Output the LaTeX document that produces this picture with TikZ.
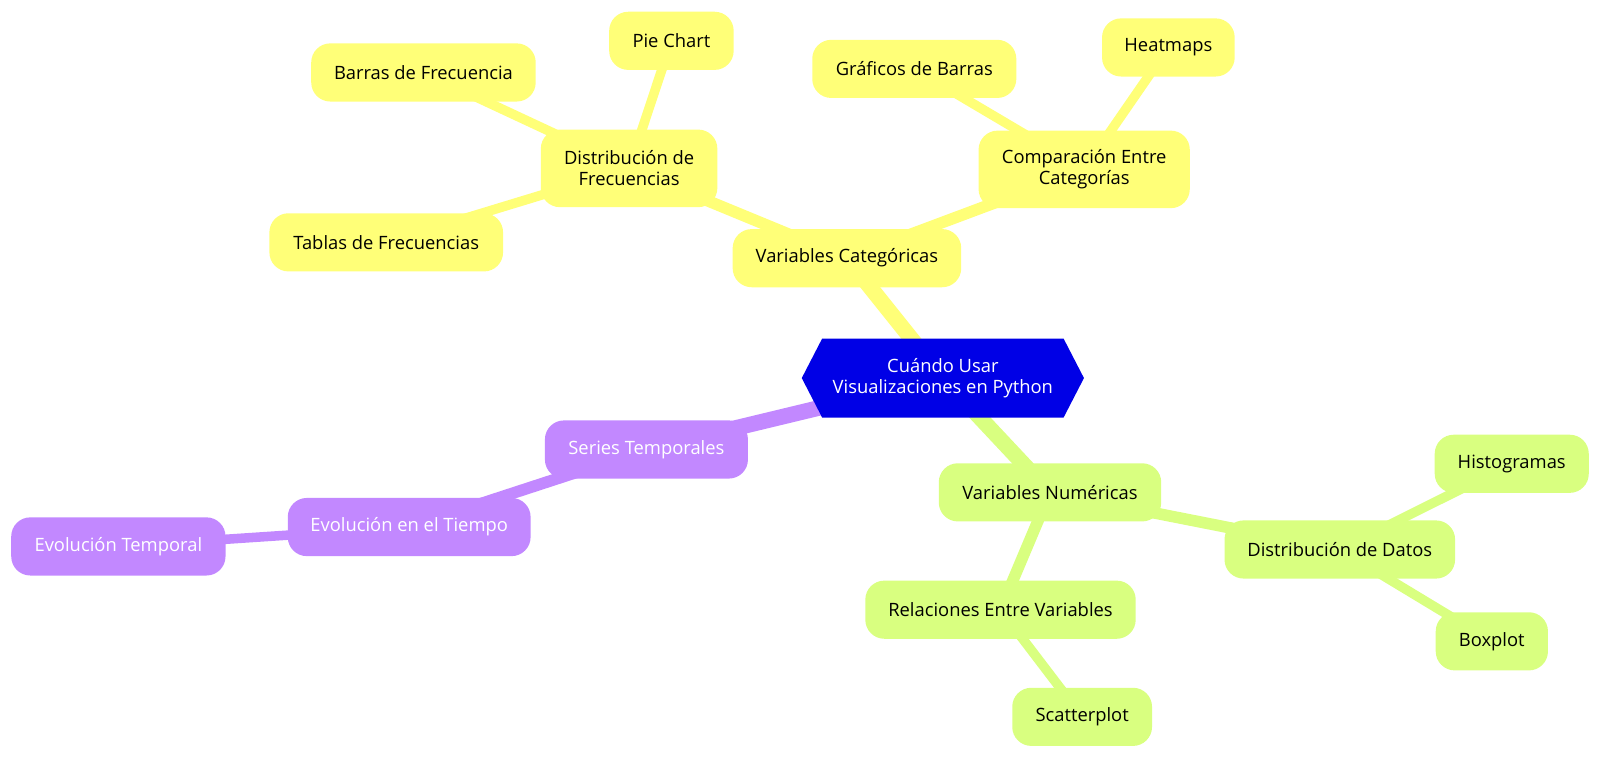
\documentclass[tikz,border=0pt]{standalone}
\usepackage{fontspec}
\setmainfont{Open Sans}
\usetikzlibrary{backgrounds}
\definecolor{rootblue}{HTML}{0000E6}
\definecolor{ylw}{HTML}{FFFF78}
\definecolor{grn}{HTML}{D9FF80}
\definecolor{prp}{HTML}{C288FF}
\tikzset{
  mm/.style={rounded corners=14pt, inner sep=2pt, align=center,
    font=\fontsize{13.5}{15.5}\selectfont, minimum height=42.75pt},
  ynode/.style={mm, fill=ylw, text=black},
  gnode/.style={mm, fill=grn, text=black},
  pnode/.style={mm, fill=prp, text=white},
  rootnode/.style={align=center, font=\fontsize{13.5}{15}\selectfont, text=white, inner sep=0pt,
    minimum width=207pt, minimum height=57.75pt},
  lvA/.style={line width=11.5pt},
  lvB/.style={line width=8.5pt},
  lvC/.style={line width=7pt},
}
\begin{document}
\begin{tikzpicture}[x=0.75pt,y=-0.75pt]
\useasboundingbox (0,0) rectangle (1568,743);
% root
\node[rootnode] (root) at (924,370.5) {Cuándo Usar\\Visualizaciones en Python};
% yellow branch
\node[ynode, minimum width=168pt] (vc) at (830,253) {Variables Categóricas};
\node[ynode, minimum width=129.75pt, minimum height=57pt] (df) at (616.5,165) {Distribución de\\Frecuencias};
\node[ynode, minimum width=165pt] (bf) at (415,71) {Barras de Frecuencia};
\node[ynode, minimum width=91.5pt] (pc) at (658,40) {Pie Chart};
\node[ynode, minimum width=171.75pt] (tf) at (378.5,237.5) {Tablas de Frecuencias};
\node[ynode, minimum width=155.25pt, minimum height=57pt] (ce) at (1062.5,166) {Comparación Entre\\Categorías};
\node[ynode, minimum width=150pt] (gb) at (896,67.5) {Gráficos de Barras};
\node[ynode, minimum width=97.5pt] (hm) at (1145,46.5) {Heatmaps};
% purple branch
\node[pnode, minimum width=149.25pt] (st) at (633.5,440.5) {Series Temporales};
\node[pnode, minimum width=178.5pt] (et) at (401,516.5) {Evolución en el Tiempo};
\node[pnode, minimum width=157.5pt] (ev) at (116,535.5) {Evolución Temporal};
% green branch
\node[gnode, minimum width=163.5pt] (vn) at (1029,482.5) {Variables Numéricas};
\node[gnode, minimum width=169.5pt] (dd) at (1313,538.5) {Distribución de Datos};
\node[gnode, minimum width=113.25pt] (hi) at (1481.5,454.5) {Histogramas};
\node[gnode, minimum width=82.5pt] (bp) at (1462,628.5) {Boxplot};
\node[gnode, minimum width=198.75pt] (re) at (980.5,597.5) {Relaciones Entre Variables};
\node[gnode, minimum width=102.75pt] (sc) at (1060.5,702.5) {Scatterplot};
\begin{scope}[on background layer]
  \draw[ylw, lvA] (root.center) -- (vc.center);
  \draw[prp, lvA] (root.center) -- (st.center);
  \draw[grn, lvA] (root.center) -- (vn.center);
  \draw[ylw, lvB] (vc.center) -- (df.center);
  \draw[ylw, lvB] (vc.center) -- (ce.center);
  \draw[ylw, lvC] (df.center) -- (bf.center);
  \draw[ylw, lvC] (df.center) -- (pc.center);
  \draw[ylw, lvC] (df.center) -- (tf.center);
  \draw[ylw, lvC] (ce.center) -- (gb.center);
  \draw[ylw, lvC] (ce.center) -- (hm.center);
  \draw[prp, lvB] (st.center) -- (et.center);
  \draw[prp, lvC] (et.center) -- (ev.center);
  \draw[grn, lvB] (vn.center) -- (dd.center);
  \draw[grn, lvB] (vn.center) -- (re.center);
  \draw[grn, lvC] (dd.center) -- (hi.center);
  \draw[grn, lvC] (dd.center) -- (bp.center);
  \draw[grn, lvC] (re.center) -- (sc.center);
  \fill[rootblue] (root.west) -- ([xshift=15pt]root.north west) -- ([xshift=-15pt]root.north east)
    -- (root.east) -- ([xshift=-15pt]root.south east) -- ([xshift=15pt]root.south west) -- cycle;
\end{scope}
\end{tikzpicture}
\end{document}
